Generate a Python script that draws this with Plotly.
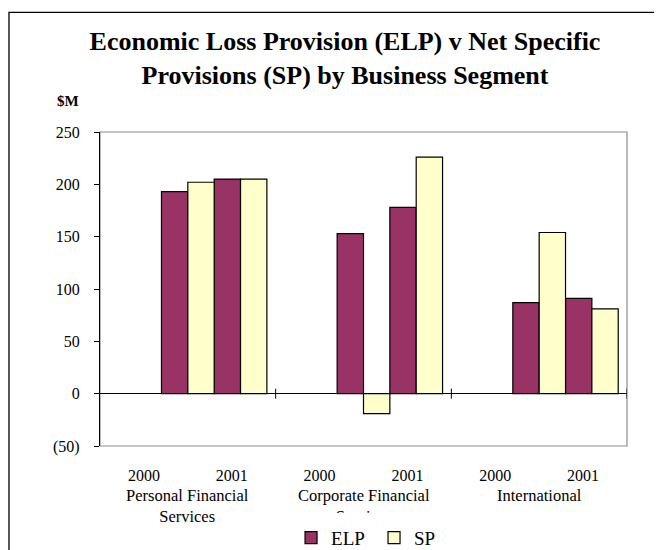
import plotly.graph_objects as go

# ---- data ----
segments = ["Personal Financial<br>Services", "Corporate Financial<br>Services", "International"]
years = ["2000", "2001"]
elp = [193, 205, 153, 178, 87, 91]     # segment x year order
sp = [202, 205, -19, 226, 154, 81]
y_ticks = [-50, 0, 50, 100, 150, 200, 250]
y_tick_labels = ["(50)", "0", "50", "100", "150", "200", "250"]

# ---- layout constants ----
GROUP_START = 0.35
BAR_W = 0.15
FONT = "Liberation Serif, Times New Roman, serif"
ELP_COLOR = "#993366"
SP_COLOR = "#FFFFCC"
W, H = 654, 542   # page body adds an 8px offset inside the 662x550 window

n_seg = len(segments)
n_yr = len(years)
elp_x, sp_x = [], []
for k in range(len(elp)):
    s, yr = divmod(k, n_yr)
    base = s + GROUP_START + 2 * yr * BAR_W + BAR_W / 2
    elp_x.append(base)
    sp_x.append(base + BAR_W)

year_tick_vals = [s + (yr + 0.5) / n_yr for s in range(n_seg) for yr in range(n_yr)]
year_tick_text = [years[yr] for s in range(n_seg) for yr in range(n_yr)]

fig = go.Figure()
fig.add_trace(go.Bar(x=elp_x, y=elp, width=BAR_W, name="ELP",
                     marker=dict(color=ELP_COLOR, line=dict(color="black", width=1.2))))
fig.add_trace(go.Bar(x=sp_x, y=sp, width=BAR_W, name="SP",
                     marker=dict(color=SP_COLOR, line=dict(color="black", width=1.2))))

shapes = []
# plot-area frame (grey)
shapes.append(dict(type="rect", xref="paper", yref="paper", x0=0, x1=1, y0=0, y1=1,
                   line=dict(color="#8c8c8c", width=1.2), layer="below"))
# outer chart border (extends past the picture)
shapes.append(dict(type="rect", xref="paper", yref="paper", x0=-0.1727, x1=1.3, y0=-0.6, y1=1.3807,
                   line=dict(color="black", width=1.3), layer="below"))
# category boundary ticks on the zero line
for b in range(1, n_seg + 1):
    shapes.append(dict(type="line", xref="x", yref="y", x0=b, x1=b, ysizemode="pixel",
                       yanchor=0, y0=-5, y1=5, line=dict(color="black", width=1)))

annotations = []
for s, name in enumerate(segments):
    a = dict(x=s + 0.5, xref="x", y=-0.122, yref="paper", yanchor="top", xanchor="center",
             text=name, showarrow=False, valign="top",
             font=dict(family=FONT, size=16.5, color="black"))
    if s == 1:
        a["height"] = 27
    annotations.append(a)
annotations.append(dict(x=-0.0607, xref="paper", y=1.0999, yref="paper", text="<b>$M</b>",
                        xanchor="center", yanchor="middle",
                        showarrow=False, font=dict(family=FONT, size=15, color="black")))

fig.update_layout(
    width=W, height=H,
    margin=dict(l=92, r=35, t=124.3, b=104.3, autoexpand=False),
    paper_bgcolor="white", plot_bgcolor="white",
    font=dict(family=FONT, size=16, color="black"),
    title=dict(text="<b>Economic Loss Provision (ELP) v Net Specific<br>Provisions (SP) by Business Segment</b>",
               font=dict(family=FONT, size=26, color="black"),
               xref="container", x=337 / W, xanchor="center",
               yref="container", y=1 - 42 / H, yanchor="top"),
    xaxis=dict(range=[0, n_seg], showgrid=False, zeroline=False, showline=False,
               tickmode="array", tickvals=year_tick_vals, ticktext=year_tick_text,
               ticks="", ticklabelstandoff=18, tickfont=dict(family=FONT, size=16)),
    yaxis=dict(range=[-50, 250], showgrid=False, zeroline=True, zerolinecolor="black",
               zerolinewidth=1, showline=True, linecolor="black", linewidth=1.2,
               tickmode="array", tickvals=y_ticks, ticktext=y_tick_labels,
               ticks="outside", ticklen=5, tickcolor="black", tickwidth=1,
               ticklabelstandoff=11, tickfont=dict(family=FONT, size=16)),
    yaxis2=dict(range=[-50, 250], overlaying="y", side="left", showgrid=False, zeroline=False,
                showline=False, tickmode="array", tickvals=y_ticks, ticks="inside", ticklen=5,
                tickcolor="black", tickwidth=1, showticklabels=False),
    barmode="overlay",
    showlegend=True,
    legend=dict(orientation="h", x=0.52, xanchor="center", y=-0.232, yanchor="top",
                font=dict(family=FONT, size=19, color="black"), bgcolor="rgba(0,0,0,0)",
                entrywidth=38, itemwidth=30),
    shapes=shapes,
    annotations=annotations,
)

fig.write_html("out.html")
